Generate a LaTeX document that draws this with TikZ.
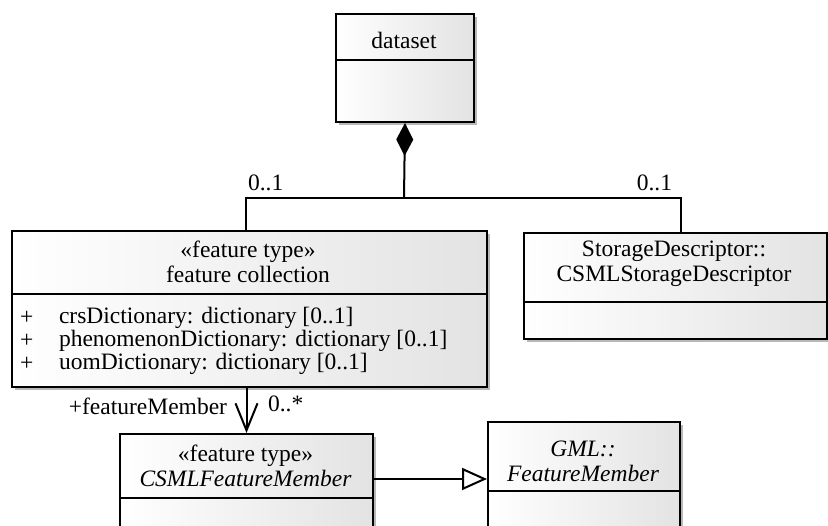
\documentclass[tikz,border=0pt]{standalone}
\usepackage{fontspec}
\setmainfont{Liberation Serif}
\usetikzlibrary{arrows.meta}
\begin{document}
\begin{tikzpicture}[x=1pt,y=-1pt,
  line width=2pt,
  umlbox/.style={draw=black, line width=2pt, rectangle, anchor=north west,
    left color=white, right color=black!11, inner sep=0pt},
  boxshadow/.style={fill=black!28, draw=none},
  txt/.style={font=\fontsize{23.5}{25}\selectfont, inner sep=0pt, align=center},
  attr/.style={font=\fontsize{23.5}{25}\selectfont, inner sep=0pt, anchor=west},
  conn/.style={draw=black, line width=2pt},
  comp/.style={conn, {Diamond[length=33pt,width=17pt,fill=black]}-},
  nav/.style={conn, -{Straight Barb[length=27pt,width=22pt,line width=2pt]}},
  gen/.style={conn, -{Triangle[open,length=25pt,width=22pt,fill=white,line width=2pt]}}
]
\useasboundingbox (0,0) rectangle (828,526);
\clip (0,0) rectangle (828,526);

% dataset
\fill[boxshadow] (339,17) rectangle (477,125);
\node[umlbox, minimum width=138pt, minimum height=108pt] (ds) at (335,13) {};
\draw (335,60) -- (473,60);
\node[txt] (dsname) at (404,40) {dataset};

% feature collection
\fill[boxshadow] (15,234) rectangle (490,390);
\node[umlbox, minimum width=475pt, minimum height=156pt] (fc) at (11,230) {};
\draw (11,294) -- (486,294);
\node[txt] (fcname) at (248,262) {«feature type»\\feature collection};
\node[attr] (p1) at (19,318) {+};
\node[attr] (p2) at (19,341) {+};
\node[attr] (p3) at (19,364) {+};
\node[attr] (a1) at (58,318) {crsDictionary: dictionary [0..1]};
\node[attr] (a2) at (58,341) {phenomenonDictionary: dictionary [0..1]};
\node[attr] (a3) at (58,364) {uomDictionary: dictionary [0..1]};

% storage descriptor
\fill[boxshadow] (527,236) rectangle (830,342);
\node[umlbox, minimum width=303pt, minimum height=106pt] (sd) at (523,232) {};
\draw (523,302) -- (826,302);
\node[txt] (sdname) at (674,264) {StorageDescriptor::\\CSMLStorageDescriptor};

% CSML feature member
\fill[boxshadow] (123,437) rectangle (376,544);
\node[umlbox, minimum width=253pt, minimum height=107pt] (csml) at (119,433) {};
\draw (119,498) -- (372,498);
\node[txt] (csmlname) at (245.5,466) {«feature type»\\\textit{CSMLFeatureMember}};

% GML feature member
\fill[boxshadow] (491,425) rectangle (683,539);
\node[umlbox, minimum width=192pt, minimum height=114pt] (gml) at (487,421) {};
\draw (487,491) -- (679,491);
\node[txt] (gmlname) at (583,461) {\textit{GML::}\\\textit{FeatureMember}};

% composition from dataset
\coordinate (j) at (404,198);
\draw[comp] (ds.south) -- (j);
\draw[conn] (j) -| ([xshift=-3.5pt]fc.north);
\draw[conn] (j) -| ([xshift=5pt]sd.north);
\node[txt, anchor=west] (m1) at (247,183) {0..1};
\node[txt, anchor=east] (m2) at (673,183) {0..1};

% navigable association
\draw[nav] (csml.north |- fc.south) -- (csml.north);
\node[txt, anchor=east] (role) at (228,406) {+featureMember};
\node[txt, anchor=west] (m3) at (267,404) {0..*};

% generalization
\draw[gen] (csml.east |- gml.west) -- (gml.west);
\end{tikzpicture}
\end{document}
